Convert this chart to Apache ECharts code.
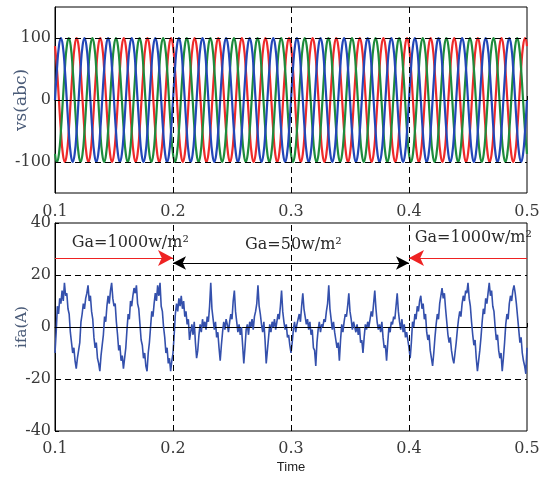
<!DOCTYPE html>
<html>
<head>
<meta charset="utf-8">
<script src="https://cdn.jsdelivr.net/npm/echarts@6/dist/echarts.min.js"></script>
<style>
html,body{margin:0;padding:0;background:#fff;}
#chart{width:544px;height:480px;}
</style>
</head>
<body>
<div id="chart"></div>
<script>
// ---- Top panel: three-phase source voltages vs(abc), sampled every 1/600 s from t = 0.1 s
const vStart = 0.1;
const vStep = 1 / 600;
const vsRed = [
  87,50,0,-50,-87,-100,-87,-50,0,50,87,100,
  87,50,0,-50,-87,-100,-87,-50,0,50,87,100,
  87,50,0,-50,-87,-100,-87,-50,0,50,87,100,
  87,50,0,-50,-87,-100,-87,-50,0,50,87,100,
  87,50,0,-50,-87,-100,-87,-50,0,50,87,100,
  87,50,0,-50,-87,-100,-87,-50,0,50,87,100,
  87,50,0,-50,-87,-100,-87,-50,0,50,87,100,
  87,50,0,-50,-87,-100,-87,-50,0,50,87,100,
  87,50,0,-50,-87,-100,-87,-50,0,50,87,100,
  87,50,0,-50,-87,-100,-87,-50,0,50,87,100,
  87,50,0,-50,-87,-100,-87,-50,0,50,87,100,
  87,50,0,-50,-87,-100,-87,-50,0,50,87,100,
  87,50,0,-50,-87,-100,-87,-50,0,50,87,100,
  87,50,0,-50,-87,-100,-87,-50,0,50,87,100,
  87,50,0,-50,-87,-100,-87,-50,0,50,87,100,
  87,50,0,-50,-87,-100,-87,-50,0,50,87,100,
  87,50,0,-50,-87,-100,-87,-50,0,50,87,100,
  87,50,0,-50,-87,-100,-87,-50,0,50,87,100,
  87,50,0,-50,-87,-100,-87,-50,0,50,87,100,
  87,50,0,-50,-87,-100,-87,-50,0,50,87,100,
  87
];
const vsGreen = [
  -87,-100,-87,-50,0,50,87,100,87,50,0,-50,
  -87,-100,-87,-50,0,50,87,100,87,50,0,-50,
  -87,-100,-87,-50,0,50,87,100,87,50,0,-50,
  -87,-100,-87,-50,0,50,87,100,87,50,0,-50,
  -87,-100,-87,-50,0,50,87,100,87,50,0,-50,
  -87,-100,-87,-50,0,50,87,100,87,50,0,-50,
  -87,-100,-87,-50,0,50,87,100,87,50,0,-50,
  -87,-100,-87,-50,0,50,87,100,87,50,0,-50,
  -87,-100,-87,-50,0,50,87,100,87,50,0,-50,
  -87,-100,-87,-50,0,50,87,100,87,50,0,-50,
  -87,-100,-87,-50,0,50,87,100,87,50,0,-50,
  -87,-100,-87,-50,0,50,87,100,87,50,0,-50,
  -87,-100,-87,-50,0,50,87,100,87,50,0,-50,
  -87,-100,-87,-50,0,50,87,100,87,50,0,-50,
  -87,-100,-87,-50,0,50,87,100,87,50,0,-50,
  -87,-100,-87,-50,0,50,87,100,87,50,0,-50,
  -87,-100,-87,-50,0,50,87,100,87,50,0,-50,
  -87,-100,-87,-50,0,50,87,100,87,50,0,-50,
  -87,-100,-87,-50,0,50,87,100,87,50,0,-50,
  -87,-100,-87,-50,0,50,87,100,87,50,0,-50,
  -87
];
const vsBlue = [
  0,50,87,100,87,50,0,-50,-87,-100,-87,-50,
  0,50,87,100,87,50,0,-50,-87,-100,-87,-50,
  0,50,87,100,87,50,0,-50,-87,-100,-87,-50,
  0,50,87,100,87,50,0,-50,-87,-100,-87,-50,
  0,50,87,100,87,50,0,-50,-87,-100,-87,-50,
  0,50,87,100,87,50,0,-50,-87,-100,-87,-50,
  0,50,87,100,87,50,0,-50,-87,-100,-87,-50,
  0,50,87,100,87,50,0,-50,-87,-100,-87,-50,
  0,50,87,100,87,50,0,-50,-87,-100,-87,-50,
  0,50,87,100,87,50,0,-50,-87,-100,-87,-50,
  0,50,87,100,87,50,0,-50,-87,-100,-87,-50,
  0,50,87,100,87,50,0,-50,-87,-100,-87,-50,
  0,50,87,100,87,50,0,-50,-87,-100,-87,-50,
  0,50,87,100,87,50,0,-50,-87,-100,-87,-50,
  0,50,87,100,87,50,0,-50,-87,-100,-87,-50,
  0,50,87,100,87,50,0,-50,-87,-100,-87,-50,
  0,50,87,100,87,50,0,-50,-87,-100,-87,-50,
  0,50,87,100,87,50,0,-50,-87,-100,-87,-50,
  0,50,87,100,87,50,0,-50,-87,-100,-87,-50,
  0,50,87,100,87,50,0,-50,-87,-100,-87,-50,
  0
];

// ---- Bottom panel: filter current ifa(A), sampled every 1 ms from t = 0.1 s
const iStart = 0.1;
const iStep = 0.001;
const ifa = [
  -10,-2,8,5,11,9,14,10,17,12,13,7,5,-2,-6,-10,-8,-13,-16,-12,
  -9,-6,2,5,9,7,11,13,16,10,12,6,3,-4,-8,-6,-12,-14,-17,-11,
  -7,-3,4,2,8,12,9,14,17,11,8,9,2,-3,-9,-7,-13,-11,-16,-12,
  -8,-1,5,3,10,8,12,15,13,16,9,7,1,-5,-7,-12,-10,-15,-17,-10,
  -6,0,6,4,9,13,10,16,12,17,8,6,0,-4,-10,-8,-14,-12,-17,-13,
  -10,-3,5,9,6,11,8,12,7,10,4,6,1,3,-5,-2,1,-3,2,-6,
  -12,-9,-3,1,-2,3,0,2,-1,4,2,8,17,7,3,-1,2,-4,-2,-8,
  -13,-7,-2,2,-1,3,1,-2,2,5,3,10,14,6,2,-2,1,-3,0,-7,
  -14,-8,-1,1,-3,2,0,3,-1,4,6,9,16,8,5,1,-2,2,-5,-14,
  -9,-4,1,-2,2,0,3,-1,2,5,3,8,14,6,2,-1,1,-4,-3,-7,
  -10,-6,-1,2,-2,1,3,5,2,8,13,7,4,1,3,-1,2,-3,-1,-8,
  -9,-15,-6,-1,2,-2,1,0,3,2,6,9,16,7,3,-1,2,-2,-5,-8,
  -6,-13,-5,1,-2,2,5,4,8,13,6,3,-1,2,0,-2,1,-3,0,-6,
  -5,-10,-4,1,-1,2,0,3,6,4,9,14,7,2,-1,1,-2,2,-4,-8,
  -7,-13,-6,0,-2,2,1,4,3,8,13,6,2,-1,3,-2,1,-4,-2,-5,
  -8,-12,-6,2,0,5,3,8,6,10,12,7,9,3,5,-2,-5,-3,-9,-12,
  -15,-10,-4,1,5,3,9,12,15,11,13,7,2,-3,-6,-4,-9,-12,-14,-10,
  -6,-1,3,6,4,9,12,10,14,13,17,11,8,2,-3,-7,-5,-12,-17,-13,
  -9,-4,2,7,5,11,9,13,17,12,14,8,6,0,-5,-3,-9,-12,-10,-17,
  -12,-6,1,5,3,9,12,10,14,16,13,9,4,-1,-6,-4,-10,-13,-15,-18,
  -8
];

// ---- Axis ticks / annotations
const xTicks = [0.1, 0.2, 0.3, 0.4, 0.5];
const vsTicks = [-100, 0, 100];
const ifaTicks = [-40, -20, 0, 20, 40];
const regionLabels = ['Ga=1000w/m\u00B2', 'Ga=50w/m\u00B2', 'Ga=1000w/m\u00B2'];
const regionBounds = [0.1, 0.2, 0.4, 0.5];

const toPairs = (arr, t0, dt) => arr.map((v, i) => [t0 + i * dt, v]);

const SERIF = 'DejaVu Serif';
const tickColor = '#3a3a3a';
const nameColor = '#4a5b78';
const dash = [6, 4];

const chart = echarts.init(document.getElementById('chart'), null, {renderer: 'canvas'});

const xAxisBase = (gi) => ({
  gridIndex: gi, type: 'value', min: xTicks[0], max: xTicks[xTicks.length - 1], interval: 0.1,
  axisLine: {show: true, lineStyle: {color: '#000', width: 1}},
  axisTick: {show: true, inside: true, length: 4, lineStyle: {color: '#000'}},
  splitLine: {show: false},
  axisLabel: {margin: 11, fontFamily: SERIF, fontSize: 16, color: tickColor,
    formatter: v => String(Math.round(v * 10) / 10)}
});

const gridLineStyle = {type: dash, color: '#000', width: 1};

const option = {
  animation: false,
  backgroundColor: '#fff',
  grid: [
    {left: 55, top: 7, width: 472, height: 186, show: true, borderColor: '#000', borderWidth: 1, backgroundColor: 'transparent'},
    {left: 55, top: 223, width: 472, height: 208, show: true, borderColor: '#000', borderWidth: 1, backgroundColor: 'transparent'}
  ],
  xAxis: [
    xAxisBase(0),
    Object.assign(xAxisBase(1), {
      axisLabel: {margin: 10, fontFamily: SERIF, fontSize: 16, color: tickColor,
        formatter: v => String(Math.round(v * 10) / 10)},
      name: 'Time', nameLocation: 'middle', nameGap: 30, nameMoveOverlap: false,
      nameTextStyle: {fontFamily: 'Liberation Sans', fontSize: 13, color: '#222'}
    })
  ],
  yAxis: [
    {gridIndex: 0, type: 'value', min: -150, max: 150,
      axisLine: {show: true, lineStyle: {color: '#000'}},
      axisTick: {show: true, inside: true, length: 4, customValues: vsTicks, lineStyle: {color: '#000'}},
      axisLabel: {margin: 4, fontFamily: SERIF, fontSize: 16, color: tickColor, customValues: vsTicks},
      splitLine: {show: false},
      name: 'vs(abc)', nameLocation: 'middle', nameGap: 25, nameMoveOverlap: false,
      nameTextStyle: {fontFamily: SERIF, fontSize: 17, color: nameColor}
    },
    {gridIndex: 1, type: 'value', min: ifaTicks[0], max: ifaTicks[ifaTicks.length - 1], interval: 20,
      axisLine: {show: true, lineStyle: {color: '#000'}},
      axisTick: {show: true, inside: true, length: 4, lineStyle: {color: '#000'}},
      axisLabel: {margin: 4, fontFamily: SERIF, fontSize: 16, color: tickColor},
      splitLine: {show: false},
      name: 'ifa(A)', nameLocation: 'middle', nameGap: 25, nameMoveOverlap: false,
      nameTextStyle: {fontFamily: SERIF, fontSize: 15, color: nameColor}
    }
  ],
  series: [
    {name: 'va', type: 'line', xAxisIndex: 0, yAxisIndex: 0, data: toPairs(vsRed, vStart, vStep),
      showSymbol: false, smooth: true, lineStyle: {color: '#ee2a2a', width: 2.2}, silent: true},
    {name: 'vb', type: 'line', xAxisIndex: 0, yAxisIndex: 0, data: toPairs(vsGreen, vStart, vStep),
      showSymbol: false, smooth: true, lineStyle: {color: '#1e8c3c', width: 2.2}, silent: true},
    {name: 'vc', type: 'line', xAxisIndex: 0, yAxisIndex: 0, data: toPairs(vsBlue, vStart, vStep),
      showSymbol: false, smooth: true, lineStyle: {color: '#2347b8', width: 2.2}, silent: true,
      markLine: {silent: true, symbol: ['none', 'none'], label: {show: false}, lineStyle: gridLineStyle,
        data: vsTicks.map(v => ({yAxis: v})).concat([0.2, 0.3, 0.4].map(v => ({xAxis: v})))}
    },
    {name: 'ifa', type: 'line', xAxisIndex: 1, yAxisIndex: 1, data: toPairs(ifa, iStart, iStep),
      showSymbol: false, lineStyle: {color: '#3450ac', width: 1.6}, silent: true,
      markLine: {silent: true, symbol: ['none', 'none'], label: {show: false}, lineStyle: gridLineStyle,
        data: [-20, 0, 20].map(v => ({yAxis: v})).concat([0.2, 0.3, 0.4].map(v => ({xAxis: v})))}
    },
    {name: 'annot', type: 'line', xAxisIndex: 1, yAxisIndex: 1, data: [], silent: true,
      markLine: {silent: true, label: {show: false}, animation: false,
        data: [
          [{coord: [regionBounds[0], 26.5], symbol: 'none', lineStyle: {color: '#ee2222', width: 1.2, type: 'solid'}},
           {coord: [regionBounds[1], 26.5], symbol: 'arrow', symbolSize: [12, 15]}],
          [{coord: [regionBounds[1], 24.6], symbol: 'arrow', symbolSize: [10, 13], lineStyle: {color: '#000', width: 1.2, type: 'solid'}},
           {coord: [regionBounds[2], 24.6], symbol: 'arrow', symbolSize: [10, 13]}],
          [{coord: [regionBounds[3], 26.5], symbol: 'none', lineStyle: {color: '#ee2222', width: 1.2, type: 'solid'}},
           {coord: [regionBounds[2], 26.5], symbol: 'arrow', symbolSize: [12, 15]}]
        ]},
      markPoint: {silent: true, symbol: 'circle', symbolSize: 0,
        label: {show: true, position: 'inside', fontFamily: SERIF, fontSize: 16, color: '#2a2a2a'},
        data: [
          {coord: [0.1638, 32.3], label: {formatter: regionLabels[0]}},
          {coord: [0.302, 31.5], label: {formatter: regionLabels[1]}},
          {coord: [0.4545, 34.2], label: {formatter: regionLabels[2]}}
        ]}
    }
  ]
};
chart.setOption(option);
</script>
</body>
</html>
